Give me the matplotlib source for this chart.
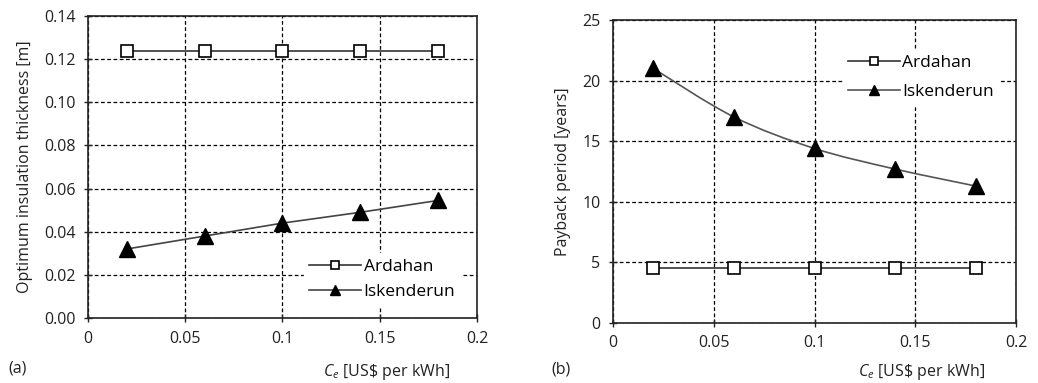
import matplotlib
matplotlib.use("Agg")
import matplotlib.pyplot as plt
from matplotlib.path import Path
from matplotlib.patches import PathPatch
from matplotlib.lines import Line2D

plt.rcParams['font.family'] = ['Open Sans', 'DejaVu Sans']
plt.rcParams['mathtext.fontset'] = 'custom'
plt.rcParams['mathtext.it'] = 'Open Sans:italic'
plt.rcParams['mathtext.rm'] = 'Open Sans'

ce = [0.02, 0.06, 0.10, 0.14, 0.18]
thick_ardahan = [0.124, 0.124, 0.124, 0.124, 0.124]
thick_isk = [0.032, 0.038, 0.044, 0.049, 0.0545]
pay_ardahan = [4.5, 4.5, 4.5, 4.5, 4.5]
pay_isk = [21.0, 17.0, 14.4, 12.7, 11.3]

xticks = [0, 0.05, 0.1, 0.15, 0.2]
xticklabels = ['0', '0.05', '0.1', '0.15', '0.2']
yticks_a = [0.00, 0.02, 0.04, 0.06, 0.08, 0.10, 0.12, 0.14]
yticks_b = [0, 5, 10, 15, 20, 25]

fig = plt.figure(figsize=(10.38, 3.83), dpi=100)
axa = fig.add_axes([0.0848, 0.1697, 0.3747, 0.7885])
axb = fig.add_axes([0.5906, 0.1567, 0.3882, 0.7911])

fs = 11.5
tc = '#222222'


def smooth_path(x, y):
    """Excel-style smoothed line: cubic Bezier through the data points."""
    verts = [(x[0], y[0])]
    codes = [Path.MOVETO]
    n = len(x)
    for i in range(n - 1):
        x0, y0 = (x[i - 1], y[i - 1]) if i > 0 else (x[i], y[i])
        x3, y3 = (x[i + 2], y[i + 2]) if i + 2 < n else (x[i + 1], y[i + 1])
        c1 = (x[i] + (x[i + 1] - x0) / 6, y[i] + (y[i + 1] - y0) / 6)
        c2 = (x[i + 1] - (x3 - x[i]) / 6, y[i + 1] - (y3 - y[i]) / 6)
        verts += [c1, c2, (x[i + 1], y[i + 1])]
        codes += [Path.CURVE4] * 3
    return Path(verts, codes)


def style(ax, yticks, ylabels, ylim, lx, ly):
    ax.set_xlim(0, 0.2)
    ax.set_ylim(*ylim)
    ax.set_xticks(xticks)
    ax.set_xticklabels(xticklabels)
    ax.set_yticks(yticks)
    ax.set_yticklabels(ylabels)
    ax.grid(True, color='black', linestyle=(0, (3, 2)), linewidth=0.9)
    ax.set_axisbelow(True)
    for s in ax.spines.values():
        s.set_linewidth(1.2)
        s.set_color(tc)
    ax.tick_params(direction='inout', length=6, width=1, labelsize=fs, colors=tc, pad=6)
    ax.set_xlabel(r'$C_e$ [US\$ per kWh]', fontsize=fs, color=tc, ha='right', va='center')
    ax.xaxis.set_label_coords(lx, ly)


def white_legend(ax, handles, labels, loc, anchor, spacing):
    lg = ax.legend(handles, labels, loc=loc, bbox_to_anchor=anchor, frameon=True,
                   fontsize=fs + 1, handlelength=3.0, markerscale=0.6, borderpad=0.3,
                   labelspacing=spacing, handletextpad=0.15, fancybox=False)
    lg.get_frame().set_edgecolor('white')
    lg.get_frame().set_facecolor('white')
    lg.get_frame().set_alpha(1)


def legend_handles(isk_color):
    return [
        Line2D([], [], color='#333333', lw=1.2, marker='s', markersize=9, markerfacecolor='white',
               markeredgecolor='black', markeredgewidth=1.2),
        Line2D([], [], color=isk_color, lw=1.2, marker='^', markersize=11, markerfacecolor='black',
               markeredgecolor='black'),
    ]


labels = ['Ardahan', 'Iskenderun']

# (a)
axa.plot(ce, thick_ardahan, color='#333333', lw=1.2, marker='s', markersize=9,
         markerfacecolor='white', markeredgecolor='black', markeredgewidth=1.2)
axa.plot(ce, thick_isk, color='#444444', lw=1.2, marker='^', markersize=11,
         markerfacecolor='black', markeredgecolor='black')
style(axa, yticks_a, [f'{v:.2f}' for v in yticks_a], (0, 0.14), 0.93, -0.179)
axa.set_ylabel('Optimum insulation thickness [m]', fontsize=fs, color=tc, labelpad=8)
white_legend(axa, legend_handles('#444444'), labels, 'lower right', (0.98, 0.015), 0.5)

# (b)
axb.plot(ce, pay_ardahan, color='#333333', lw=1.2, marker='s', markersize=9,
         markerfacecolor='white', markeredgecolor='black', markeredgewidth=1.2)
axb.add_patch(PathPatch(smooth_path(ce, pay_isk), facecolor='none', edgecolor='#555555', lw=1.2))
axb.plot(ce, pay_isk, linestyle='none', marker='^', markersize=11,
         markerfacecolor='black', markeredgecolor='black')
style(axb, yticks_b, [str(v) for v in yticks_b], (0, 25), 0.923, -0.162)
axb.set_ylabel('Payback period [years]', fontsize=fs, color=tc, labelpad=8)
white_legend(axb, legend_handles('#555555'), labels, 'upper right', (0.98, 0.93), 0.75)

fig.text(0.008, 0.039, '(a)', fontsize=fs, color=tc, va='center')
fig.text(0.531, 0.034, '(b)', fontsize=fs, color=tc, va='center')

fig.savefig('out.png', dpi=100)
